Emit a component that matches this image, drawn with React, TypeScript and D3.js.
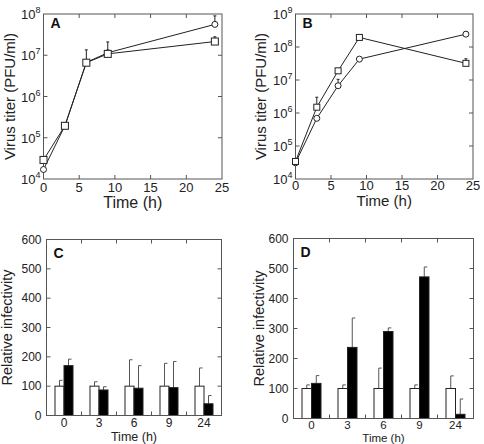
import React from 'react';
import * as d3 from 'd3';

// Time points (h)
const hours = [0, 3, 6, 9, 24];
const hourLabels = ['0', '3', '6', '9', '24'];

// Panel A: virus titer (PFU/ml)
const aCircle = [1.7e4, 1.95e5, 6.7e6, 1.15e7, 5.6e7];
const aCircleTop = [null, null, 1.35e7, 2.1e7, 9e7];
const aSquare = [2.9e4, 1.95e5, 6.6e6, 1.08e7, 2.15e7];
const aSquareTop = [null, 2.3e5, null, null, 2.8e7];

// Panel B: virus titer (PFU/ml)
const bCircle = [3.1e4, 6.9e5, 6.7e6, 4.3e7, 2.45e8];
const bCircleTop = [null, null, 1.05e7, null, 2.9e8];
const bSquare = [3.4e4, 1.5e6, 1.9e7, 1.95e8, 3.2e7];
const bSquareTop = [null, 3e6, null, 2.3e8, 4.4e7];

// Panel C: relative infectivity
const cControl = [100, 100, 100, 100, 100];
const cControlSd = [20, 15, 90, 78, 62];
const cTreated = [170, 87, 93, 95, 40];
const cTreatedSd = [22, 11, 77, 89, 28];

// Panel D: relative infectivity
const dControl = [100, 100, 100, 100, 100];
const dControlSd = [12, 12, 68, 12, 42];
const dTreated = [117, 237, 290, 472, 14];
const dTreatedSd = [26, 98, 12, 33, 51];

const FONT = '"Liberation Sans", Arial, Helvetica, sans-serif';
const INK = '#222';
const FRAME = '#555';

type Box = { left: number; right: number; top: number; bottom: number };

function TiterPanel(props: {
  box: Box; letter: string; maxExp: number;
  circle: number[]; circleTop: (number | null)[];
  square: number[]; squareTop: (number | null)[];
  sq: number; xLabelDy: number; titleY: number; titleSize: number; yTitleX: number;
}) {
  const { box } = props;
  const x = d3.scaleLinear().domain([0, 25]).range([box.left, box.right]);
  const y = d3.scaleLog().domain([1e4, Math.pow(10, props.maxExp)]).range([box.bottom, box.top]);
  const line = d3.line<number>().x((_, i) => x(hours[i])).y(d => y(d));
  const decades = d3.range(4, props.maxExp + 1);
  const xTicks = [0, 5, 10, 15, 20, 25];
  const tk = 4;

  const errBars = (vals: number[], tops: (number | null)[]) =>
    vals.map((v, i) => {
      const t = tops[i];
      if (t == null) return null;
      return (
        <g key={i} stroke={INK} strokeWidth={1}>
          <line x1={x(hours[i])} x2={x(hours[i])} y1={y(v)} y2={y(t)} />
          <line x1={x(hours[i]) - 1.5} x2={x(hours[i]) + 1.5} y1={y(t)} y2={y(t)} />
        </g>
      );
    });

  return (
    <g fontFamily={FONT}>
      <rect x={box.left} y={box.top} width={box.right - box.left} height={box.bottom - box.top}
        fill="none" stroke={FRAME} strokeWidth={1} />
      {xTicks.slice(1, -1).map(t => (
        <g key={t} stroke={FRAME}>
          <line x1={x(t)} x2={x(t)} y1={box.bottom} y2={box.bottom - tk} />
          <line x1={x(t)} x2={x(t)} y1={box.top} y2={box.top + tk} />
        </g>
      ))}
      {decades.slice(1, -1).map(e => (
        <g key={e} stroke={FRAME}>
          <line x1={box.left} x2={box.left + tk} y1={y(Math.pow(10, e))} y2={y(Math.pow(10, e))} />
          <line x1={box.right} x2={box.right - tk} y1={y(Math.pow(10, e))} y2={y(Math.pow(10, e))} />
        </g>
      ))}
      {xTicks.map(t => (
        <text key={t} x={x(t)} y={box.bottom + props.xLabelDy} textAnchor="middle" fontSize={13} fill={INK}>{t}</text>
      ))}
      {decades.map(e => (
        <text key={e} x={box.left - 3} y={y(Math.pow(10, e)) + 5} textAnchor="end" fontSize={13} fill={INK}>
          10<tspan dy={-6} fontSize={9}>{e}</tspan>
        </text>
      ))}
      <text x={(box.left + box.right) / 2} y={props.titleY} textAnchor="middle" fontSize={props.titleSize} fill={INK}>Time (h)</text>
      <text transform={`translate(${props.yTitleX},${(box.top + box.bottom) / 2}) rotate(-90)`} dy="0.35em"
        textAnchor="middle" fontSize={15} fill={INK}>Virus titer (PFU/ml)</text>
      <text x={box.left + 7} y={box.top + 14} fontSize={14} fontWeight="bold" fill="#111">{props.letter}</text>

      <path d={line(props.circle) || ''} fill="none" stroke={INK} strokeWidth={1} />
      <path d={line(props.square) || ''} fill="none" stroke={INK} strokeWidth={1} />
      {errBars(props.circle, props.circleTop)}
      {errBars(props.square, props.squareTop)}
      {props.circle.map((v, i) => (
        <circle key={i} cx={x(hours[i])} cy={y(v)} r={3} fill="#fff" stroke={INK} strokeWidth={1} />
      ))}
      {props.square.map((v, i) => (
        <rect key={i} x={x(hours[i]) - props.sq / 2} y={y(v) - props.sq / 2} width={props.sq} height={props.sq}
          fill="#fff" stroke={INK} strokeWidth={1} />
      ))}
    </g>
  );
}

function BarPanel(props: {
  box: Box; letter: string;
  control: number[]; controlSd: number[]; treated: number[]; treatedSd: number[];
  barW: number; xLabelY: number; xLabelSize: number; titleY: number; titleSize: number; yTitleX: number;
}) {
  const { box } = props;
  const x0 = d3.scaleBand<string>().domain(hourLabels).range([box.left, box.right]);
  const bw = x0.bandwidth();
  const x1 = d3.scaleBand<string>().domain(['control', 'treated'])
    .range([bw / 2 - props.barW, bw / 2 + props.barW]);
  const y = d3.scaleLinear().domain([0, 600]).range([box.bottom, box.top]);
  const yTicks = d3.range(0, 601, 100);
  const tk = 4;

  const bars = (key: string, vals: number[], sds: number[], fill: string) =>
    vals.map((v, i) => {
      const bx = (x0(hourLabels[i]) || 0) + (x1(key) || 0);
      const cx = bx + x1.bandwidth() / 2;
      const top = y(v + sds[i]);
      return (
        <g key={key + i}>
          <line x1={cx} x2={cx} y1={y(v)} y2={top} stroke={FRAME} strokeWidth={1} />
          <line x1={cx} x2={cx + 3} y1={top} y2={top} stroke={FRAME} strokeWidth={1} />
          <rect x={bx} y={y(v)} width={x1.bandwidth()} height={y(0) - y(v)}
            fill={fill} stroke={INK} strokeWidth={1} />
        </g>
      );
    });

  return (
    <g fontFamily={FONT}>
      {yTicks.slice(1, -1).map(t => (
        <g key={t} stroke={FRAME}>
          <line x1={box.left} x2={box.left + tk} y1={y(t)} y2={y(t)} />
          <line x1={box.right} x2={box.right - tk} y1={y(t)} y2={y(t)} />
        </g>
      ))}
      {hourLabels.slice(1).map(h => (
        <g key={h} stroke={FRAME}>
          <line x1={x0(h)} x2={x0(h)} y1={box.bottom} y2={box.bottom - tk} />
          <line x1={x0(h)} x2={x0(h)} y1={box.top} y2={box.top + tk} />
        </g>
      ))}
      {bars('control', props.control, props.controlSd, '#fff')}
      {bars('treated', props.treated, props.treatedSd, '#000')}
      <rect x={box.left} y={box.top} width={box.right - box.left} height={box.bottom - box.top}
        fill="none" stroke={FRAME} strokeWidth={1} />
      {yTicks.map(t => (
        <text key={t} x={box.left - 5} y={y(t) + 4} textAnchor="end" fontSize={12} fill={INK}>{t}</text>
      ))}
      {hourLabels.map(h => (
        <text key={h} x={(x0(h) || 0) + bw / 2} y={props.xLabelY} textAnchor="middle" fontSize={props.xLabelSize} fill={INK}>{h}</text>
      ))}
      <text x={(box.left + box.right) / 2} y={props.titleY} textAnchor="middle" fontSize={props.titleSize} fill={INK}>Time (h)</text>
      <text transform={`translate(${props.yTitleX},${(box.top + box.bottom) / 2}) rotate(-90)`} dy="0.35em"
        textAnchor="middle" fontSize={14.5} fill={INK}>Relative infectivity</text>
      <text x={box.left + 7} y={box.top + 18} fontSize={14} fontWeight="bold" fill="#111">{props.letter}</text>
    </g>
  );
}

export default function App() {
  return (
    <svg width={484} height={444} style={{ position: 'absolute', left: 0, top: 0, background: '#fff' }}>
      <rect width={484} height={444} fill="#fff" />
      <TiterPanel box={{ left: 43.5, right: 222, top: 14, bottom: 179 }} letter="A" maxExp={8}
        circle={aCircle} circleTop={aCircleTop} square={aSquare} squareTop={aSquareTop}
        sq={7} xLabelDy={13} titleY={208} titleSize={16} yTitleX={10} />
      <TiterPanel box={{ left: 295.5, right: 473, top: 14, bottom: 179 }} letter="B" maxExp={9}
        circle={bCircle} circleTop={bCircleTop} square={bSquare} squareTop={bSquareTop}
        sq={6} xLabelDy={11} titleY={206} titleSize={15} yTitleX={261} />
      <BarPanel box={{ left: 46.5, right: 221.5, top: 239.5, bottom: 415.5 }} letter="C"
        control={cControl} controlSd={cControlSd} treated={cTreated} treatedSd={cTreatedSd}
        barW={9} xLabelY={427} xLabelSize={12} titleY={441.3} titleSize={12.5} yTitleX={7} />
      <BarPanel box={{ left: 293.5, right: 473.5, top: 238.5, bottom: 418.5 }} letter="D"
        control={dControl} controlSd={dControlSd} treated={dTreated} treatedSd={dTreatedSd}
        barW={9.5} xLabelY={428.7} xLabelSize={11.5} titleY={441.5} titleSize={11.5} yTitleX={259} />
    </svg>
  );
}
